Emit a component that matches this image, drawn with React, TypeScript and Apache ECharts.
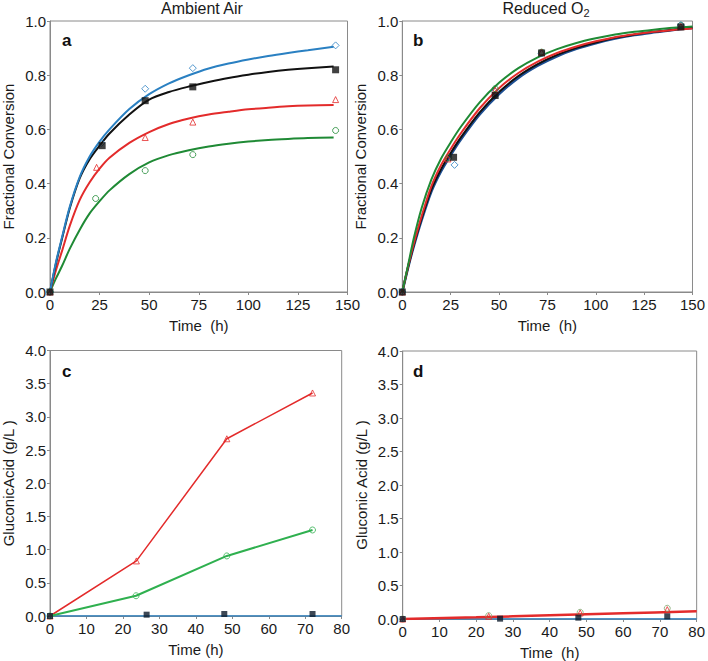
import React, { useEffect, useRef } from "react";
import * as echarts from "echarts";

// ---------- Panel a (Ambient Air, fractional conversion) ----------
const fitTimesA = [0, 3, 6, 10, 15, 20, 25, 30, 40, 50, 60, 70, 80, 90, 100, 110, 120, 130, 143];
const aBlueFit = [0, 0.11, 0.2, 0.315, 0.425, 0.5, 0.555, 0.6, 0.675, 0.73, 0.77, 0.8, 0.825, 0.843, 0.858, 0.871, 0.882, 0.892, 0.905];
const aBlackFit = [0, 0.105, 0.195, 0.31, 0.42, 0.49, 0.54, 0.585, 0.655, 0.71, 0.738, 0.758, 0.775, 0.79, 0.802, 0.812, 0.82, 0.826, 0.832];
const aRedFit = [0, 0.08, 0.15, 0.245, 0.34, 0.405, 0.455, 0.495, 0.55, 0.59, 0.62, 0.64, 0.655, 0.665, 0.674, 0.68, 0.685, 0.688, 0.69];
const aGreenFit = [0, 0.05, 0.095, 0.16, 0.23, 0.29, 0.335, 0.375, 0.435, 0.478, 0.505, 0.523, 0.537, 0.547, 0.555, 0.561, 0.565, 0.568, 0.57];
const aBluePts = [[0, 0], [26, 0.55], [48, 0.75], [72, 0.826], [144, 0.91]];
const aBlackPts = [[0, 0], [26.3, 0.54], [48, 0.706], [72, 0.757], [144, 0.82]];
const aRedPts = [[0, 0], [23.5, 0.46], [48, 0.57], [72, 0.627], [144, 0.71]];
const aGreenPts = [[0, 0], [23, 0.345], [48, 0.448], [72, 0.507], [144, 0.596]];

// ---------- Panel b (Reduced O2, fractional conversion) ----------
const fitTimesB = [0, 3, 6, 10, 15, 20, 25, 30, 40, 50, 60, 70, 80, 90, 100, 110, 120, 130, 140, 150];
const bBlueFit = [0, 0.09, 0.17, 0.265, 0.37, 0.445, 0.505, 0.56, 0.655, 0.73, 0.79, 0.835, 0.87, 0.897, 0.918, 0.935, 0.948, 0.958, 0.967, 0.974];
const bBlackFit = [0, 0.092, 0.175, 0.272, 0.378, 0.453, 0.513, 0.568, 0.663, 0.738, 0.797, 0.841, 0.875, 0.901, 0.921, 0.938, 0.95, 0.96, 0.968, 0.975];
const bRedFit = [0, 0.095, 0.18, 0.28, 0.39, 0.468, 0.528, 0.583, 0.678, 0.752, 0.808, 0.85, 0.882, 0.906, 0.925, 0.94, 0.951, 0.96, 0.967, 0.972];
const bGreenFit = [0, 0.1, 0.2, 0.31, 0.415, 0.492, 0.552, 0.607, 0.7, 0.772, 0.826, 0.866, 0.896, 0.919, 0.936, 0.95, 0.96, 0.968, 0.975, 0.98];
const bBluePts = [[0, 0], [27, 0.469], [48, 0.74], [72, 0.88], [144, 0.985]];
const bBlackPts = [[0, 0], [26.5, 0.497], [48, 0.725], [72, 0.882], [144, 0.978]];
const bRedPts = [[0, 0], [23.6, 0.491], [48, 0.745], [72, 0.885], [144, 0.98]];
const bGreenPts = [[0, 0], [24, 0.495], [48, 0.75], [72, 0.885], [144, 0.984]];

// ---------- Panel c (Ambient Air, gluconic acid) ----------
const cRedPts = [[0, 0], [23.7, 0.83], [48.5, 2.67], [72, 3.36]];
const cGreenPts = [[0, 0], [23.6, 0.305], [48.5, 0.905], [72, 1.296]];
const cBlackPts = [[0, 0], [26.5, 0.02], [47.8, 0.03], [72, 0.03]];
const cBlueLine = [[0, 0], [80, 0]];

// ---------- Panel d (Reduced O2, gluconic acid) ----------
const dRedFit = [[0, 0], [20, 0.025], [40, 0.055], [60, 0.085], [80, 0.115]];
const dGreenPts = [[0, 0], [23.4, 0.05], [48.3, 0.1], [72, 0.16]];
const dRedPts = [[0, 0], [23.4, 0.04], [48.3, 0.09], [72, 0.14]];
const dBlackPts = [[0, 0], [26.5, 0.005], [47.8, 0.02], [72, 0.04]];
const dBlueLine = [[0, 0], [80, 0]];

const zip = (t: number[], v: number[]) => t.map((x, i) => [x, v[i]]);

const BLUE = "#2a80c2";
const BLACK = "#111111";
const RED = "#e32b2b";
const GREEN = "#1f8a35";
const GREEN_C = "#2fb04f";
const FRAME = "#8a8a8a";
const FONT = "Liberation Sans, Arial, sans-serif";

export default function App() {
  const ref = useRef<HTMLDivElement>(null);
  useEffect(() => {
    document.body.style.margin = "0";
    const chart = echarts.init(ref.current!, null, { renderer: "svg" });

    const grids = [
      { left: 49.5, top: 21, width: 298, height: 271 },
      { left: 402.3, top: 21, width: 294.4, height: 271 },
      { left: 50, top: 350.5, width: 291.7, height: 265.5 },
      { left: 402.7, top: 351, width: 295.6, height: 268.3 },
    ].map((g) => ({ ...g, show: true, borderColor: FRAME, borderWidth: 1, backgroundColor: "transparent" }));

    const axisCommon = {
      type: "value",
      axisLine: { show: true, lineStyle: { color: FRAME, width: 1 } },
      axisTick: { show: true, length: 3, lineStyle: { color: FRAME } },
      splitLine: { show: false },
      nameLocation: "middle",
      nameTextStyle: { fontSize: 15, color: "#1a1a1a", fontFamily: FONT },
    };
    const xLabel = { fontSize: 15, color: "#1a1a1a", fontFamily: FONT, margin: 5 };
    const yLabel = { fontSize: 15, color: "#1a1a1a", fontFamily: FONT, margin: 4 };

    const xAxis = [
      { ...axisCommon, gridIndex: 0, min: 0, max: 150, interval: 25, name: "Time  (h)", nameGap: 26, axisLabel: xLabel },
      { ...axisCommon, gridIndex: 1, min: 0, max: 150, interval: 25, name: "Time  (h)", nameGap: 26, axisLabel: xLabel },
      { ...axisCommon, gridIndex: 2, min: 0, max: 80, interval: 10, name: "Time (h)", nameGap: 26, axisLabel: xLabel },
      { ...axisCommon, gridIndex: 3, min: 0, max: 80, interval: 10, name: "Time  (h)", nameGap: 26, axisLabel: xLabel },
    ];
    const f1 = (v: number) => v.toFixed(1);
    const yAxis = [
      { ...axisCommon, gridIndex: 0, min: 0, max: 1, interval: 0.2, name: "Fractional Conversion", nameGap: 34, axisLabel: { ...yLabel, formatter: f1 } },
      { ...axisCommon, gridIndex: 1, min: 0, max: 1, interval: 0.2, name: "Fractional Conversion", nameGap: 34, axisLabel: { ...yLabel, formatter: f1 } },
      { ...axisCommon, gridIndex: 2, min: 0, max: 4, interval: 0.5, name: "GluconicAcid (g/L )", nameGap: 34, axisLabel: { ...yLabel, formatter: f1 } },
      { ...axisCommon, gridIndex: 3, min: 0, max: 4, interval: 0.5, name: "Gluconic Acid (g/L )", nameGap: 34, axisLabel: { ...yLabel, formatter: f1 } },
    ];

    const fit = (idx: number, data: number[][], color: string, width = 2) => ({
      type: "line",
      xAxisIndex: idx,
      yAxisIndex: idx,
      data,
      smooth: 0.3,
      showSymbol: false,
      symbol: "none",
      lineStyle: { color, width },
      silent: true,
      z: 2,
    });
    const seg = (idx: number, data: number[][], color: string, width: number) => ({
      type: "line",
      xAxisIndex: idx,
      yAxisIndex: idx,
      data,
      showSymbol: false,
      symbol: "none",
      lineStyle: { color, width },
      silent: true,
      z: 2,
    });
    const pts = (idx: number, data: number[][], shape: string, color: string, filled: boolean, size = 6) => ({
      type: "scatter",
      xAxisIndex: idx,
      yAxisIndex: idx,
      data,
      symbol: shape,
      symbolSize: size,
      itemStyle: filled
        ? { color, borderColor: color, borderWidth: 0 }
        : { color: "rgba(255,255,255,0)", borderColor: color, borderWidth: 1 },
      silent: true,
      z: 3,
    });

    const series = [
      // panel a
      fit(0, zip(fitTimesA, aGreenFit), GREEN),
      fit(0, zip(fitTimesA, aRedFit), RED),
      fit(0, zip(fitTimesA, aBlackFit), BLACK),
      fit(0, zip(fitTimesA, aBlueFit), BLUE),
      pts(0, aBluePts, "diamond", BLUE, false, 7),
      pts(0, aGreenPts, "circle", GREEN, false),
      pts(0, aRedPts, "triangle", RED, false),
      pts(0, aBlackPts, "rect", BLACK, true, 7),
      // panel b
      fit(1, zip(fitTimesB, bBlueFit), "#1d4f93", 2.5),
      fit(1, zip(fitTimesB, bBlackFit), BLACK),
      fit(1, zip(fitTimesB, bRedFit), RED),
      fit(1, zip(fitTimesB, bGreenFit), GREEN),
      pts(1, bGreenPts, "circle", GREEN, false),
      pts(1, bBluePts, "diamond", BLUE, false, 7),
      pts(1, bRedPts, "triangle", RED, false),
      pts(1, bBlackPts, "rect", BLACK, true, 7),
      // panel c
      seg(2, cBlueLine, BLUE, 1.5),
      seg(2, cRedPts, RED, 1.5),
      seg(2, cGreenPts, GREEN_C, 2),
      pts(2, cRedPts, "triangle", RED, false),
      pts(2, cGreenPts, "circle", GREEN_C, false),
      pts(2, cBlackPts, "rect", "#0d1a2a", true, 6),
      // panel d
      seg(3, dBlueLine, BLUE, 1.5),
      fit(3, dRedFit, RED, 2.5),
      pts(3, dGreenPts, "circle", "#7fa86f", false),
      pts(3, dRedPts, "triangle", RED, false),
      pts(3, dBlackPts, "rect", "#0d1a2a", true, 6),
    ];

    const label = (text: string, x: number, y: number) => ({
      type: "text",
      x,
      y,
      style: { text, fontSize: 17, fontWeight: "bold", fill: "#111", fontFamily: FONT },
    });

    chart.setOption({
      animation: false,
      backgroundColor: "#ffffff",
      grid: grids,
      xAxis,
      yAxis,
      series,
      graphic: [
        {
          type: "text",
          x: 202,
          y: 8,
          style: { text: "Ambient Air", fontSize: 16, fill: "#1a1a1a", fontFamily: FONT, align: "center", verticalAlign: "middle" },
        },
        {
          type: "text",
          x: 546,
          y: 8,
          style: {
            text: "Reduced O{s|2}",
            fontSize: 16,
            fill: "#1a1a1a",
            fontFamily: FONT,
            align: "center",
            verticalAlign: "middle",
            rich: { s: { fontSize: 11, fontFamily: FONT, fill: "#1a1a1a", padding: [9, 0, 0, 0] } },
          },
        },
        label("a", 62, 32),
        label("b", 413, 32),
        label("c", 62, 363),
        label("d", 413, 363),
      ],
    });
    return () => chart.dispose();
  }, []);
  return <div ref={ref} style={{ width: 708, height: 661 }} />;
}
